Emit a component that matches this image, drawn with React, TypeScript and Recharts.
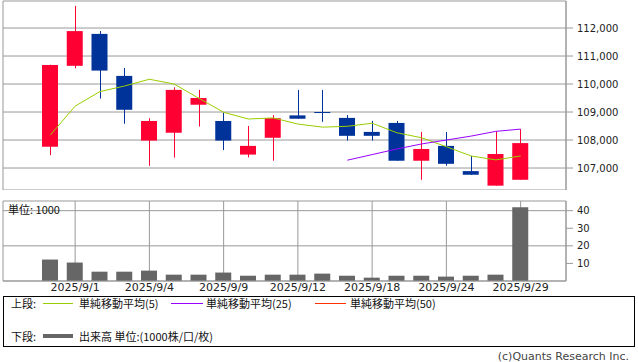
import { ComposedChart, Bar, Line, XAxis, YAxis, CartesianGrid } from "recharts";

const dates = [
  "2025/8/29", "2025/9/1", "2025/9/2", "2025/9/3", "2025/9/4", "2025/9/5", "2025/9/8",
  "2025/9/9", "2025/9/10", "2025/9/11", "2025/9/12", "2025/9/16", "2025/9/17", "2025/9/18",
  "2025/9/19", "2025/9/22", "2025/9/24", "2025/9/25", "2025/9/26", "2025/9/29",
];
const opens = [
  107760, 110650, 111790, 110290, 107980, 108260, 109260, 108680, 107480, 108080,
  108880, 109000, 108790, 108290, 108610, 107260, 107790, 106890, 106370, 106580,
];
const highs = [
  110690, 112790, 111890, 110570, 108780, 109880, 109790, 108980, 108500, 108890,
  109790, 109790, 108890, 108680, 108680, 108290, 108290, 107430, 108310, 108390,
];
const lows = [
  107460, 110560, 109480, 108580, 107080, 107370, 108480, 107640, 107380, 107260,
  108760, 108650, 107980, 107980, 107260, 106580, 107080, 106760, 106370, 106580,
];
const closes = [
  110680, 111890, 110480, 109080, 108680, 109790, 109500, 107980, 107790, 108780,
  108760, 108990, 108150, 108150, 107260, 107680, 107150, 106760, 107500, 107890,
];
const ma5 = [
  108180, 109210, 109730, 109930, 110170, 110000, 109490, 108990, 108750, 108790,
  108570, 108460, 108490, 108600, 108260, 108080, 107760, 107430, 107290, 107430,
];
const ma25 = [
  null, null, null, null, null, null, null, null, null, null,
  null, null, 107280, 107480, 107680, 107860, 108000, 108140, 108310, 108390,
];
const volume = [
  12.2, 10.5, 5.3, 5.3, 5.9, 3.6, 3.6, 4.8, 3.0, 3.6,
  3.6, 4.2, 3.0, 1.9, 3.0, 3.0, 2.5, 3.0, 3.6, 41.9,
];
const labelDates = ["2025/9/1", "2025/9/4", "2025/9/9", "2025/9/12", "2025/9/18", "2025/9/24", "2025/9/29"];
const priceTicks = [107000, 108000, 109000, 110000, 111000, 112000];
const volumeTicks = [10, 20, 30, 40];

const data = dates.map((date, i) => ({
  date,
  open: opens[i],
  high: highs[i],
  low: lows[i],
  close: closes[i],
  ma5: ma5[i],
  ma25: ma25[i],
  volume: volume[i],
}));

const RED = "#ff0033";
const BLUE = "#003399";
const GRID = "#999999";
const FONT = "'DejaVu Sans', sans-serif";
const JP = "'Noto Sans CJK JP', 'DejaVu Sans', sans-serif";

// range bar [low, high]; body is placed inside it with the same scale
const Candle = (props: any) => {
  const { x, y, width, height, payload } = props;
  if (payload == null || height == null) return null;
  const { open, close, high, low } = payload;
  const color = close > open ? RED : BLUE;
  const k = height / (high - low);
  const top = y + (high - Math.max(open, close)) * k;
  const bodyH = Math.max(Math.abs(open - close) * k, 1);
  const cx = Math.round(x + width / 2) + 0.5;
  return (
    <g>
      <line x1={cx} x2={cx} y1={y} y2={y + height} stroke={color} strokeWidth={1} />
      <rect x={x} y={top} width={width} height={bodyH} fill={color} />
    </g>
  );
};

const pad = { left: 35, right: 33 };

export default function App() {
  return (
    <div style={{ position: "absolute", left: 0, top: 0, width: 638, height: 362, background: "#fff", fontFamily: FONT }}>
      <div style={{ position: "absolute", left: 0, top: 0 }}>
        <ComposedChart width={638} height={190} data={data} margin={{ top: 1, right: 0, bottom: 0, left: 3 }}>
          <CartesianGrid stroke={GRID} />
          <XAxis
            dataKey="date"
            ticks={labelDates}
            interval={0}
            tick={false}
            tickLine={false}
            height={0}
            axisLine={{ stroke: GRID }}
            padding={pad}
          />
          <XAxis xAxisId="top" orientation="top" dataKey="date" tick={false} tickLine={false} height={0} axisLine={{ stroke: GRID }} />
          <YAxis
            orientation="right"
            domain={[106215, 112965]}
            allowDataOverflow
            ticks={priceTicks}
            width={72}
            tickSize={7}
            tickMargin={4}
            tickLine={{ stroke: GRID }}
            axisLine={{ stroke: GRID }}
            tick={{ fontSize: 10, fill: "#222", fontFamily: FONT }}
            tickFormatter={(v: number) => v.toLocaleString("en-US")}
          />
          <YAxis yAxisId="left" orientation="left" width={0} tick={false} tickLine={false} axisLine={{ stroke: GRID }} />
          <Bar dataKey={(d: any) => [d.low, d.high]} shape={<Candle />} barSize={16} isAnimationActive={false} />
          <Line type="linear" dataKey="ma5" stroke="#99cc00" strokeWidth={1} dot={false} isAnimationActive={false} />
          <Line type="linear" dataKey="ma25" stroke="#9900ff" strokeWidth={1} dot={false} isAnimationActive={false} />
        </ComposedChart>
      </div>

      <div style={{ position: "absolute", left: 0, top: 200 }}>
        <ComposedChart width={638} height={101} data={data} margin={{ top: 1, right: 0, bottom: 0, left: 3 }}>
          <CartesianGrid stroke={GRID} />
          <XAxis
            dataKey="date"
            ticks={labelDates}
            interval={0}
            tickLine={false}
            tickSize={0}
            tickMargin={2}
            height={20}
            axisLine={{ stroke: GRID }}
            padding={pad}
            tick={{ fontSize: 11, fill: "#222", fontFamily: FONT }}
          />
          <XAxis xAxisId="top" orientation="top" dataKey="date" tick={false} tickLine={false} height={0} axisLine={{ stroke: GRID }} />
          <YAxis
            orientation="right"
            domain={[0, 45.5]}
            allowDataOverflow
            ticks={volumeTicks}
            width={72}
            tickSize={7}
            tickMargin={4}
            tickLine={{ stroke: GRID }}
            axisLine={{ stroke: GRID }}
            tick={{ fontSize: 10, fill: "#222", fontFamily: FONT }}
          />
          <YAxis yAxisId="left" orientation="left" width={0} tick={false} tickLine={false} axisLine={{ stroke: GRID }} />
          <Bar dataKey="volume" fill="#666666" barSize={16} isAnimationActive={false} />
        </ComposedChart>
      </div>

      <div style={{ position: "absolute", left: 8, top: 202, fontSize: 11, lineHeight: "14px", fontFamily: JP, color: "#111" }}>
        単位: 1000
      </div>

      {/* legend */}
      <div style={{ position: "absolute", left: 3, top: 296, width: 632, height: 51, border: "1px solid #000", boxSizing: "border-box" }} />
      <div style={{ position: "absolute", left: 0, top: 0, fontSize: 11, lineHeight: "14px", fontFamily: JP, color: "#111", whiteSpace: "nowrap" }}>
        <span style={{ position: "absolute", left: 11, top: 296 }}>上段:</span>
        <span style={{ position: "absolute", left: 43, top: 303, width: 30, height: 1, background: "#99cc00" }} />
        <span style={{ position: "absolute", left: 79, top: 296 }}>単純移動平均(5)</span>
        <span style={{ position: "absolute", left: 171, top: 303, width: 32, height: 1, background: "#9900ff" }} />
        <span style={{ position: "absolute", left: 206, top: 296 }}>単純移動平均(25)</span>
        <span style={{ position: "absolute", left: 315, top: 303, width: 31, height: 1, background: "#ff3300" }} />
        <span style={{ position: "absolute", left: 350, top: 296 }}>単純移動平均(50)</span>
        <span style={{ position: "absolute", left: 11, top: 329 }}>下段:</span>
        <span style={{ position: "absolute", left: 43, top: 334, width: 30, height: 4, background: "#666666" }} />
        <span style={{ position: "absolute", left: 79, top: 329 }}>出来高 単位:(1000株/口/枚)</span>
      </div>
      <div style={{ position: "absolute", left: 429, top: 350, width: 200, textAlign: "right", fontSize: 11, lineHeight: "14px", fontFamily: FONT, color: "#444" }}>
        (c)Quants Research Inc.
      </div>
    </div>
  );
}
